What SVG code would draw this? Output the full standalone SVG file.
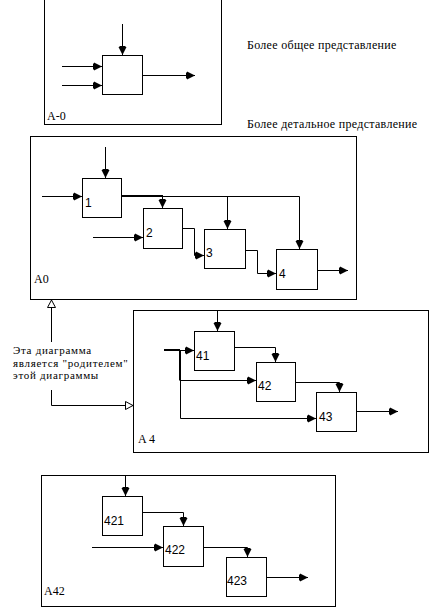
<svg xmlns="http://www.w3.org/2000/svg" width="433" height="609" viewBox="0 0 433 609">
<style>
.frame{fill:none;stroke:#000;stroke-width:1}
.box{fill:#fff;stroke:#000;stroke-width:1}
.ln{fill:none;stroke:#000;stroke-width:1}
.thick{fill:none;stroke:#000;stroke-width:2}
.a{marker-end:url(#ah)}
.o{marker-end:url(#oh)}
.lbl{font-family:"Liberation Serif","Times New Roman",serif;font-size:12px;fill:#000}
.hd{letter-spacing:0.3px}
.note{font-family:"Liberation Serif","Times New Roman",serif;font-size:11px;letter-spacing:0.7px;fill:#000}
.num{font-family:"Liberation Sans",Arial,sans-serif;font-size:12px;fill:#000}
</style>
<defs>
<marker id="ah" markerUnits="userSpaceOnUse" markerWidth="10" markerHeight="10" viewBox="0 0 10 10" refX="9" refY="5" orient="auto">
<path d="M1,1 L9,5 L1,9 Z M0,2 h2 v6 h-2 Z" fill="#000"/>
</marker>
<marker id="oh" markerUnits="userSpaceOnUse" markerWidth="10" markerHeight="10" viewBox="0 0 10 10" refX="9" refY="5" orient="auto">
<path d="M1.5,1 L9,5 L1.5,9 Z" fill="#fff" stroke="#000" stroke-width="1"/>
</marker>
</defs>

<g id="texts">
<text class="lbl hd" x="247" y="49">Более общее представление</text>
<text class="lbl hd" x="247" y="128">Более детальное представление</text>
<text class="note" x="13" y="354">Эта диаграмма</text>
<text class="note" x="13" y="366.5">является "родителем"</text>
<text class="note" x="13" y="379">этой диаграммы</text>
</g>

<g id="frame-A-0">
<rect class="frame" x="44.5" y="-5" width="177" height="129.5"/>
<text class="lbl" x="47" y="120">A-0</text>
</g>
<g id="node-A0box">
<rect class="box" x="102.5" y="55.5" width="40" height="39"/>
</g>

<g id="frame-A0">
<rect class="frame" x="30.5" y="136.5" width="326" height="163"/>
<text class="lbl" x="34" y="283">A0</text>
</g>
<g id="node-1"><rect class="box" x="82.5" y="178.5" width="39" height="39"/><text class="num" x="85" y="207">1</text></g>
<g id="node-2"><rect class="box" x="143.5" y="208.5" width="39" height="40"/><text class="num" x="146" y="237">2</text></g>
<g id="node-3"><rect class="box" x="204.5" y="229.5" width="41" height="39"/><text class="num" x="206" y="257">3</text></g>
<g id="node-4"><rect class="box" x="276.5" y="249.5" width="41" height="40"/><text class="num" x="279" y="278">4</text></g>

<g id="frame-A4">
<rect class="frame" x="133.5" y="310.5" width="295" height="142"/>
<text class="lbl" x="138" y="443">A 4</text>
</g>
<g id="node-41"><rect class="box" x="194.5" y="331.5" width="40" height="39"/><text class="num" x="196" y="360">41</text></g>
<g id="node-42"><rect class="box" x="256.5" y="362.5" width="39" height="39"/><text class="num" x="258" y="390">42</text></g>
<g id="node-43"><rect class="box" x="316.5" y="392.5" width="40" height="39"/><text class="num" x="319" y="421">43</text></g>

<g id="frame-A42">
<rect class="frame" x="41.5" y="475.5" width="294" height="131"/>
<text class="lbl" x="44" y="595">A42</text>
</g>
<g id="node-421"><rect class="box" x="102.5" y="496.5" width="40" height="39"/><text class="num" x="104" y="525">421</text></g>
<g id="node-422"><rect class="box" x="163.5" y="526.5" width="40" height="40"/><text class="num" x="165" y="554">422</text></g>
<g id="node-423"><rect class="box" x="226.5" y="557.5" width="40" height="39"/><text class="num" x="227" y="585">423</text></g>

<g id="connectors">
<path class="ln a" d="M122.5,24 V55"/>
<path class="ln a" d="M62,66.5 H102"/>
<path class="ln a" d="M62,85.5 H102"/>
<path class="ln a" d="M143,75.5 H195"/>
<path class="ln a" d="M105.5,147 V178"/>
<path class="ln a" d="M42,196.5 H82"/>
<path class="ln a" d="M93,237.5 H143"/>
<path class="thick" d="M122,196 H163"/>
<path class="ln" d="M163,196.5 H299.5"/>
<path class="ln a" d="M162.5,196 V208"/>
<path class="ln a" d="M227.5,196.5 V229"/>
<path class="ln a" d="M299.5,196.5 V249"/>
<path class="ln a" d="M183,228.5 H194.5 V255.5 H204"/>
<path class="ln a" d="M246,250.5 H257.5 V273.5 H276"/>
<path class="ln a" d="M318,270.5 H348"/>
<path class="ln o" d="M51.5,342 V300"/>
<path class="ln o" d="M51.5,390 V405.5 H133"/>
<path class="ln a" d="M217.5,311 V331"/>
<path class="thick" d="M164,350 H180"/>
<path class="ln a" d="M180,350.5 H194"/>
<path class="thick" d="M180,350 V380.5"/>
<path class="ln a" d="M180,380.5 H256"/>
<path class="ln a" d="M180.5,380 V418.5 H316"/>
<path class="ln a" d="M235,347.5 H275.5 V362"/>
<path class="ln a" d="M296,382.5 H339.5 V392"/>
<path class="ln a" d="M357,411.5 H398"/>
<path class="ln a" d="M125.5,476 V496"/>
<path class="ln a" d="M143,512.5 H183.5 V526"/>
<path class="ln a" d="M92,547.5 H163"/>
<path class="ln a" d="M204,547.5 H247.5 V557"/>
<path class="ln a" d="M267,577.5 H308"/>
</g>
</svg>
